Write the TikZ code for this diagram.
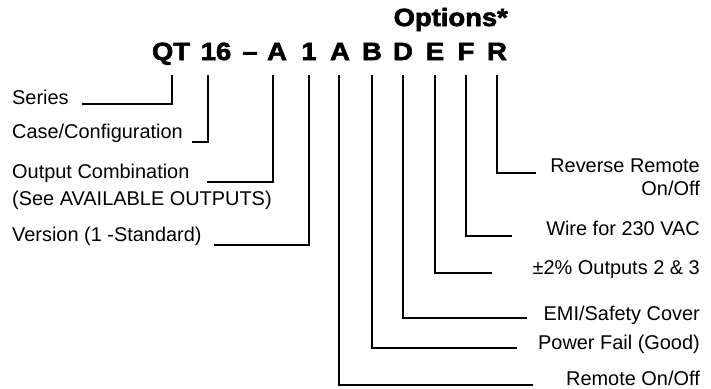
\documentclass[tikz,border=0pt]{standalone}
\usepackage{fontspec}
\setmainfont{Liberation Sans}
\newfontfamily\heavyfont{Liberation Sans}[BoldFeatures={FakeBold=2.5,FakeStretch=1.1}]
\begin{document}
\begin{tikzpicture}[x=1bp,y=-1bp,
  code/.style={font=\heavyfont\bfseries\fontsize{25}{25}\selectfont, inner sep=0pt, anchor=base},
  opttitle/.style={font=\heavyfont\bfseries\fontsize{25}{25}\selectfont, inner sep=0pt, anchor=base east},
  lab/.style={font=\fontsize{20}{23}\selectfont, inner sep=0pt},
  leftlab/.style={lab, anchor=base west, align=left},
  rightlab/.style={lab, anchor=base east, align=right},
  conn/.style={line width=1.6bp, line join=miter}]
\useasboundingbox (0,0) rectangle (711,388);
% header
\node[opttitle] (opt) at (508,26) {Options*};
\node[code] (cQT) at (171,60) {QT};
\node[code] (c16) at (216,60) {16};
\node[code] (cdash) at (250,60) {\textendash};
\node[code] (cA) at (277,60) {A};
\node[code] (c1) at (309,60) {1};
\node[code] (cA2) at (340,60) {A};
\node[code] (cB) at (372,60) {B};
\node[code] (cD) at (403,60) {D};
\node[code] (cE) at (435,60) {E};
\node[code] (cF) at (466,60) {F};
\node[code] (cR) at (497,60) {R};
% tick tops
\coordinate (tQT) at (172,75);
\coordinate (t16) at (208,75);
\coordinate (tA) at (273,75);
\coordinate (t1) at (309,75);
\coordinate (tA2) at (339,75);
\coordinate (tB) at (372,75);
\coordinate (tD) at (403,75);
\coordinate (tE) at (435,75);
\coordinate (tF) at (466,75);
\coordinate (tR) at (497,75);
% left labels
\node[leftlab] (series) at (12,104) {Series};
\node[leftlab] (case) at (12,138) {Case/Configuration};
\node[leftlab, font=\fontsize{20}{27}\selectfont] (outc) at (12,205) {Output Combination\\(See AVAILABLE OUTPUTS)};
\node[leftlab] (ver) at (12,241) {Version (1 -Standard)};
% right labels
\node[rightlab] (rev) at (700,195) {Reverse Remote\\On/Off};
\node[rightlab] (wire) at (700,235) {Wire for 230 VAC};
\node[rightlab] (pct) at (700,274) {±2\% Outputs 2 \& 3};
\node[rightlab] (emi) at (700,320) {EMI/Safety Cover};
\node[rightlab] (pow) at (700,349) {Power Fail (Good)};
\node[rightlab] (rem) at (700,385) {Remote On/Off};
% line ends
\coordinate (eSeries) at (82,104);
\coordinate (eCase) at (192,142);
\coordinate (eOut) at (207,182);
\coordinate (eVer) at (214,245);
\coordinate (eRev) at (536,173);
\coordinate (eWire) at (512,236);
\coordinate (ePct) at (492,273);
\coordinate (eEMI) at (527,318);
\coordinate (ePow) at (517,348);
\coordinate (eRem) at (533,385);
% connectors
\draw[conn] (tQT) |- (eSeries);
\draw[conn] (t16) |- (eCase);
\draw[conn] (tA) |- (eOut);
\draw[conn] (t1) |- (eVer);
\draw[conn] (tR) |- (eRev);
\draw[conn] (tF) |- (eWire);
\draw[conn] (tE) |- (ePct);
\draw[conn] (tD) |- (eEMI);
\draw[conn] (tB) |- (ePow);
\draw[conn] (tA2) |- (eRem);
\end{tikzpicture}
\end{document}
